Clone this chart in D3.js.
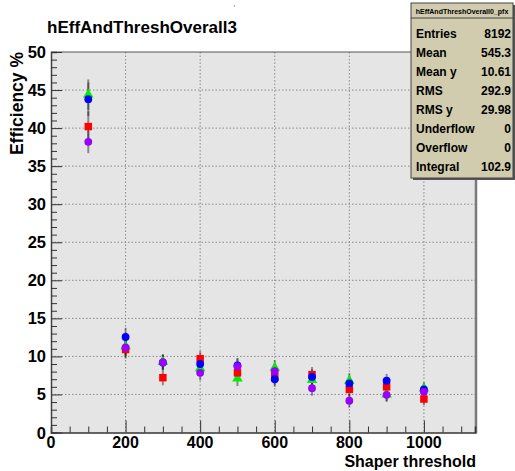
<!DOCTYPE html>
<meta charset="utf-8">
<title>hEffAndThreshOverall3</title>
<style>
  body { margin: 0; background: #fff; }
  svg text { font-family: "Liberation Sans", Arial, Helvetica, sans-serif; font-weight: bold; }
</style>
<body>
<svg width="515" height="471" id="chart"></svg>
<script src="https://d3js.org/d3.v7.min.js"></script>
<script>
// thresholds (x) and efficiency values
var thresholds = [100, 200, 300, 400, 500, 600, 700, 800, 900, 1000];
var greenVals  = [44.4, 11.3, 9.3, 8.45, 7.1, 8.5, 6.9, 6.8, 5.0, 5.8];
var redVals    = [40.2, 10.9, 7.2, 9.7, 7.84, 7.3, 7.6, 5.66, 6.0, 4.4];
var blueVals   = [43.8, 12.55, 9.2, 9.0, 8.8, 7.0, 7.3, 6.45, 6.8, 5.66];
var purpleVals = [38.2, 11.17, 9.2, 7.84, 8.7, 8.06, 5.83, 4.17, 4.95, 5.35];
var greenErr   = [2.0, 1.2, 1.0, 1.0, 1.0, 1.0, 1.0, 1.0, 0.9, 0.8];
var redErr     = [2.0, 1.2, 1.0, 1.0, 1.0, 1.0, 1.0, 0.9, 0.9, 0.8];
var blueErr    = [2.2, 1.2, 1.0, 1.0, 1.0, 1.0, 1.0, 0.9, 0.9, 0.8];
var purpleErr  = [1.5, 1.2, 1.0, 1.0, 1.0, 1.0, 1.0, 0.9, 0.9, 0.8];

var xTicks = [0, 200, 400, 600, 800, 1000];
var yTicks = [0, 5, 10, 15, 20, 25, 30, 35, 40, 45, 50];

var statNames  = ["Entries", "Mean", "Mean y", "RMS", "RMS y", "Underflow", "Overflow", "Integral"];
var statValues = ["8192", "545.3", "10.61", "292.9", "29.98", "0", "0", "102.9"];

var svg = d3.select("#chart");

var frame = {left: 51, right: 475, top: 52, bottom: 432.5};

var x = d3.scaleLinear().domain([0, 1137]).range([frame.left, frame.right]);
var y = d3.scaleLinear().domain([0, 50]).range([frame.bottom, frame.top]);

// stray blue fragment at the very top
svg.append("text").attr("x", 233).attr("y", 6).attr("fill", "#2a2aff")
   .style("font-size", "8px").style("font-weight", "normal").text(",");

// frame background
svg.append("rect")
    .attr("x", frame.left).attr("y", frame.top)
    .attr("width", frame.right - frame.left).attr("height", frame.bottom - frame.top)
    .attr("fill", "#e5e5e5");

// grid
var grid = svg.append("g").attr("stroke", "#8a8a8a").attr("stroke-dasharray", "1.5,2").attr("stroke-width", 1);
grid.selectAll(".gx").data(xTicks.slice(1)).enter().append("line")
    .attr("x1", function(d) { return x(d); }).attr("x2", function(d) { return x(d); })
    .attr("y1", frame.top).attr("y2", frame.bottom);
grid.selectAll(".gy").data(yTicks.slice(1, -1)).enter().append("line")
    .attr("y1", function(d) { return y(d); }).attr("y2", function(d) { return y(d); })
    .attr("x1", frame.left).attr("x2", frame.right);

// frame edges: shadowed right side
svg.append("line").attr("x1", frame.right + 1).attr("x2", frame.right + 1)
    .attr("y1", frame.top).attr("y2", frame.bottom + 1)
    .attr("stroke", "#7a7a7a").attr("stroke-width", 2.5);
svg.append("line").attr("x1", frame.left).attr("x2", frame.right + 2)
    .attr("y1", frame.top).attr("y2", frame.top)
    .attr("stroke", "#555").attr("stroke-width", 1);

// axes with ROOT-style inner ticks
var xAxis = d3.axisBottom(x).tickValues(d3.range(0, 1137, 50)).tickSize(-6).tickFormat("");
var gx = svg.append("g").attr("transform", "translate(0," + frame.bottom + ")").call(xAxis);
gx.selectAll(".tick line").filter(function(d) { return d % 200 === 0; }).attr("y2", -12);
gx.select(".domain").attr("stroke", "#333").attr("stroke-width", 1.5);
gx.selectAll(".tick line").attr("stroke", "#333");

var yAxis = d3.axisLeft(y).tickValues(d3.range(0, 51, 1)).tickSize(-6).tickFormat("");
var gy = svg.append("g").attr("transform", "translate(" + frame.left + ",0)").call(yAxis);
gy.selectAll(".tick line").filter(function(d) { return d % 5 === 0; }).attr("x2", 11);
gy.select(".domain").attr("stroke", "#444").attr("stroke-width", 1.5);
gy.selectAll(".tick line").attr("stroke", "#333");

// tick labels
svg.append("g").selectAll("text").data(xTicks).enter().append("text")
    .attr("x", function(d) { return x(d); }).attr("y", 448)
    .attr("text-anchor", "middle").style("font-size", "16px")
    .text(function(d) { return d; });
svg.append("g").selectAll("text").data(yTicks).enter().append("text")
    .attr("x", 46).attr("y", function(d) { return y(d) + 6; })
    .attr("text-anchor", "end").style("font-size", "16.5px")
    .text(function(d) { return d; });

// axis titles
svg.append("text").attr("x", frame.right + 1).attr("y", 467)
    .attr("text-anchor", "end").style("font-size", "16px").text("Shaper threshold");
svg.append("text").attr("transform", "translate(23," + frame.top + ") rotate(-90)")
    .attr("text-anchor", "end").style("font-size", "17.5px").text("Efficiency %");

// title
svg.append("text").attr("x", 47).attr("y", 33).style("font-size", "17px").text("hEffAndThreshOverall3");

// series
var series = [
  {vals: greenVals,  err: greenErr,  color: "#00ee00", shape: d3.symbolTriangle, size: 48},
  {vals: redVals,    err: redErr,    color: "#ff0000", shape: d3.symbolSquare,   size: 56},
  {vals: blueVals,   err: blueErr,   color: "#0000ff", shape: d3.symbolCircle,   size: 48},
  {vals: purpleVals, err: purpleErr, color: "#9900ff", shape: d3.symbolCircle,   size: 48}
];

var errG = svg.append("g");
series.forEach(function(s) {
  errG.selectAll(null).data(thresholds).enter().append("line")
      .attr("x1", function(d) { return x(d); }).attr("x2", function(d) { return x(d); })
      .attr("y1", function(d, i) { return y(s.vals[i] - s.err[i]); })
      .attr("y2", function(d, i) { return y(s.vals[i] + s.err[i]); })
      .attr("stroke", "#000").attr("stroke-opacity", 0.4).attr("stroke-width", 2);
});

series.forEach(function(s) {
  svg.append("g").selectAll("path").data(thresholds).enter().append("path")
      .attr("d", d3.symbol().type(s.shape).size(s.size))
      .attr("transform", function(d, i) { return "translate(" + x(d) + "," + y(s.vals[i]) + ")"; })
      .attr("fill", s.color);
});

// stats box
var box = {x: 411, y: 3, w: 102, h: 175};
svg.append("rect").attr("x", box.x + 2).attr("y", box.y + 2).attr("width", box.w).attr("height", box.h)
    .attr("fill", "#555");
svg.append("rect").attr("x", box.x).attr("y", box.y).attr("width", box.w).attr("height", box.h)
    .attr("fill", "#d1ccae").attr("stroke", "#444").attr("stroke-width", 1);
svg.append("line").attr("x1", box.x).attr("x2", box.x + box.w).attr("y1", box.y + 15).attr("y2", box.y + 15)
    .attr("stroke", "#444");
svg.append("text").attr("x", box.x + box.w / 2).attr("y", box.y + 10.5)
    .attr("text-anchor", "middle").style("font-size", "7px").text("hEffAndThreshOverall0_pfx");

var rows = svg.append("g").selectAll("g").data(statNames).enter().append("g")
    .attr("transform", function(d, i) { return "translate(0," + (38 + i * 19) + ")"; });
rows.append("text").attr("x", box.x + 5).style("font-size", "12px").text(function(d) { return d; });
rows.append("text").attr("x", box.x + box.w - 2).attr("text-anchor", "end").style("font-size", "12px")
    .text(function(d, i) { return statValues[i]; });
</script>
</body>
